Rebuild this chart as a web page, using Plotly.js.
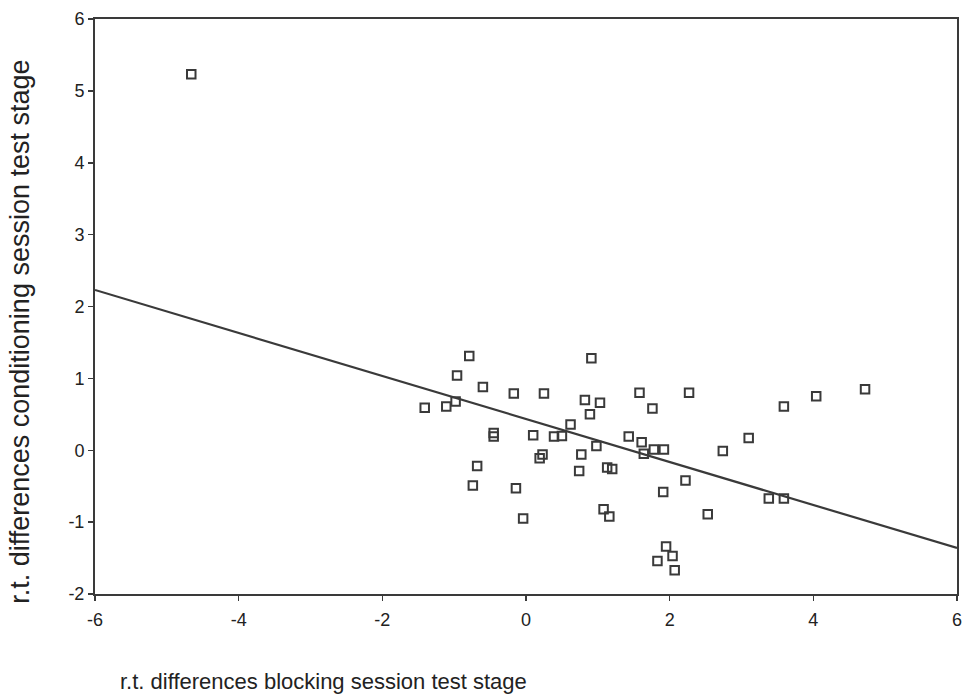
<!DOCTYPE html>
<html>
<head>
<meta charset="utf-8">
<script src="https://cdn.plot.ly/plotly-3.0.1.min.js"></script>
<style>
  html, body { margin: 0; padding: 0; background: #fff; }
  #chart { width: 964px; height: 695px; }
</style>
</head>
<body>
<div id="chart"></div>
<script>
// Reaction-time differences: blocking session (x) vs conditioning session (y)
const blockingDiff = [
  -4.66,
  -0.79, -0.96, -0.60, -0.17, 0.25, 0.91, 1.58, 2.27,
  -1.41, -1.11, -0.98, 0.82, 1.03, 0.89, 1.76, 0.62,
  -0.45, -0.45, 0.10, 0.39, 0.50, 0.98, 1.43, 1.61, 1.64, 1.78, 1.92,
  0.23, 0.19, 0.77, 0.74, 1.13, 1.20,
  -0.68, -0.74, -0.14, 2.22, 1.91, 1.08, 1.16, -0.04,
  1.95, 2.04, 1.83, 2.07,
  3.59, 4.04, 4.72, 3.10, 2.74, 3.38, 3.59, 2.53
];
const conditioningDiff = [
  5.23,
  1.31, 1.04, 0.88, 0.79, 0.79, 1.28, 0.80, 0.80,
  0.59, 0.61, 0.68, 0.70, 0.66, 0.50, 0.58, 0.36,
  0.24, 0.19, 0.21, 0.19, 0.20, 0.06, 0.19, 0.11, -0.05, 0.01, 0.01,
  -0.06, -0.11, -0.06, -0.29, -0.24, -0.26,
  -0.22, -0.49, -0.53, -0.42, -0.58, -0.82, -0.92, -0.95,
  -1.34, -1.47, -1.54, -1.67,
  0.61, 0.75, 0.85, 0.17, -0.01, -0.67, -0.67, -0.89
];

// Fitted regression line, evaluated at the axis ends
const fitX = [-6, 6];
const fitY = [2.23, -1.36];

// Tick positions and labels (plain hyphen minus signs)
const xTicks = [-6, -4, -2, 0, 2, 4, 6];
const xTickText = ['-6', '-4', '-2', '0', '2', '4', '6'];
const yTicks = [-2, -1, 0, 1, 2, 3, 4, 5, 6];
const yTickText = ['-2', '-1', '0', '1', '2', '3', '4', '5', '6'];

const xTitle = 'r.t. differences blocking session test stage';
const yTitle = 'r.t. differences conditioning session test stage';

const ink = '#3a3a3a';
const fontFamily = 'Liberation Sans, Arial, sans-serif';

const traces = [
  {
    x: fitX, y: fitY,
    type: 'scatter', mode: 'lines',
    line: { color: ink, width: 2.2 },
    hoverinfo: 'skip', showlegend: false
  },
  {
    x: blockingDiff, y: conditioningDiff,
    type: 'scatter', mode: 'markers',
    marker: {
      symbol: 'square-open', size: 8.5,
      color: ink, line: { color: ink, width: 2 }
    },
    showlegend: false
  }
];

const axisCommon = {
  showgrid: false, zeroline: false,
  showline: true, linecolor: ink, linewidth: 2, mirror: true,
  ticks: 'outside', ticklen: 5, tickwidth: 1.5, tickcolor: ink,
  tickfont: { family: fontFamily, size: 18, color: '#222' }
};

const layout = {
  width: 964, height: 695,
  margin: { l: 95, r: 7, t: 19, b: 101 },
  paper_bgcolor: '#ffffff', plot_bgcolor: '#ffffff',
  xaxis: Object.assign({}, axisCommon, {
    range: [-6, 6], tickvals: xTicks, ticktext: xTickText,
    ticklabelstandoff: 3
  }),
  yaxis: Object.assign({}, axisCommon, {
    range: [-2, 6], tickvals: yTicks, ticktext: yTickText
  }),
  annotations: [
    {
      text: xTitle, xref: 'paper', yref: 'paper',
      x: 0.027, y: -0.152, xanchor: 'left', yanchor: 'middle',
      showarrow: false,
      font: { family: fontFamily, size: 22, color: '#222' }
    },
    {
      text: yTitle, xref: 'paper', yref: 'paper',
      x: -0.087, y: 0.456, xanchor: 'center', yanchor: 'middle',
      textangle: -90, showarrow: false,
      font: { family: fontFamily, size: 27, color: '#222' }
    }
  ]
};

Plotly.newPlot('chart', traces, layout, { staticPlot: true, displayModeBar: false });
</script>
</body>
</html>
